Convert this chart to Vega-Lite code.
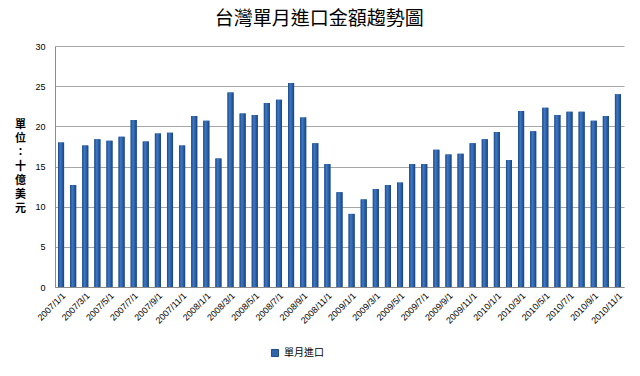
{
  "$schema": "https://vega.github.io/schema/vega-lite/v6.json",
  "width": 640,
  "height": 376,
  "autosize": {"type": "fit", "contains": "padding"},
  "padding": {"left": 14, "right": 16, "top": 10, "bottom": 50},
  "background": "white",
  "title": {
    "text": "台灣單月進口金額趨勢圖",
    "font": "Noto Sans CJK TC",
    "fontSize": 19,
    "fontWeight": "normal",
    "color": "#000000",
    "anchor": "middle",
    "frame": "bounds",
    "offset": 13
  },
  "config": {
    "view": {"stroke": null},
    "font": "Liberation Sans"
  },
  "data": {
    "values": [
      {"month": "2007/1/1", "value": 18.0},
      {"month": "2007/2/1", "value": 12.7},
      {"month": "2007/3/1", "value": 17.6},
      {"month": "2007/4/1", "value": 18.4},
      {"month": "2007/5/1", "value": 18.2},
      {"month": "2007/6/1", "value": 18.7},
      {"month": "2007/7/1", "value": 20.8},
      {"month": "2007/8/1", "value": 18.1},
      {"month": "2007/9/1", "value": 19.1},
      {"month": "2007/10/1", "value": 19.2},
      {"month": "2007/11/1", "value": 17.6},
      {"month": "2007/12/1", "value": 21.3},
      {"month": "2008/1/1", "value": 20.7},
      {"month": "2008/2/1", "value": 16.0},
      {"month": "2008/3/1", "value": 24.2},
      {"month": "2008/4/1", "value": 21.6},
      {"month": "2008/5/1", "value": 21.4},
      {"month": "2008/6/1", "value": 22.9},
      {"month": "2008/7/1", "value": 23.3},
      {"month": "2008/8/1", "value": 25.4},
      {"month": "2008/9/1", "value": 21.1},
      {"month": "2008/10/1", "value": 17.9},
      {"month": "2008/11/1", "value": 15.3},
      {"month": "2008/12/1", "value": 11.8},
      {"month": "2009/1/1", "value": 9.1},
      {"month": "2009/2/1", "value": 10.9},
      {"month": "2009/3/1", "value": 12.2},
      {"month": "2009/4/1", "value": 12.7},
      {"month": "2009/5/1", "value": 13.0},
      {"month": "2009/6/1", "value": 15.3},
      {"month": "2009/7/1", "value": 15.3},
      {"month": "2009/8/1", "value": 17.1},
      {"month": "2009/9/1", "value": 16.5},
      {"month": "2009/10/1", "value": 16.6},
      {"month": "2009/11/1", "value": 17.9},
      {"month": "2009/12/1", "value": 18.4},
      {"month": "2010/1/1", "value": 19.3},
      {"month": "2010/2/1", "value": 15.8},
      {"month": "2010/3/1", "value": 21.9},
      {"month": "2010/4/1", "value": 19.4},
      {"month": "2010/5/1", "value": 22.3},
      {"month": "2010/6/1", "value": 21.4},
      {"month": "2010/7/1", "value": 21.8},
      {"month": "2010/8/1", "value": 21.8},
      {"month": "2010/9/1", "value": 20.7},
      {"month": "2010/10/1", "value": 21.3},
      {"month": "2010/11/1", "value": 24.0}
    ]
  },
  "encoding": {
    "x": {
      "field": "month",
      "type": "ordinal",
      "sort": null,
      "scale": {"paddingInner": 0.5, "paddingOuter": 0.25},
      "axis": {
        "title": null,
        "values": ["2007/1/1","2007/3/1","2007/5/1","2007/7/1","2007/9/1","2007/11/1","2008/1/1","2008/3/1","2008/5/1","2008/7/1","2008/9/1","2008/11/1","2009/1/1","2009/3/1","2009/5/1","2009/7/1","2009/9/1","2009/11/1","2010/1/1","2010/3/1","2010/5/1","2010/7/1","2010/9/1","2010/11/1"],
        "labelAngle": -45,
        "labelFontSize": 9,
        "labelColor": "#000000",
        "labelPadding": 4,
        "ticks": false,
        "domainColor": "#8c8c8c",
        "labelFont": "Liberation Sans"
      }
    },
    "y": {
      "field": "value",
      "type": "quantitative",
      "scale": {"domain": [0, 30], "nice": false},
      "axis": {
        "values": [0, 5, 10, 15, 20, 25, 30],
        "title": ["單", "位", "：", "十", "億", "美", "元"],
        "titleAngle": 0,
        "titleFont": "Noto Sans CJK TC",
        "titleFontSize": 11,
        "titleFontWeight": "bold",
        "titleLineHeight": 14,
        "titleColor": "#000000",
        "titleAlign": "center",
        "titleBaseline": "middle",
        "titleX": -35,
        "titleY": 78,
        "labelFontSize": 9,
        "labelColor": "#000000",
        "labelPadding": 10,
        "ticks": false,
        "gridColor": "#a6a6a6",
        "domainColor": "#8c8c8c"
      }
    }
  },
  "layer": [
    {
      "mark": {"type": "bar"},
      "encoding": {
        "color": {
          "datum": "單月進口",
          "scale": {"range": ["#2f64ad"]},
          "legend": {
            "title": null,
            "orient": "none",
            "legendX": 215,
            "legendY": 302,
            "direction": "horizontal",
            "symbolType": "square",
            "symbolSize": 50,
            "symbolStrokeColor": "#1d4a87",
            "symbolStrokeWidth": 1,
            "labelFont": "Noto Sans CJK TC",
            "labelFontSize": 10,
            "labelColor": "#000000"
          }
        }
      }
    },
    {
      "mark": {
        "type": "bar",
        "fill": {
          "gradient": "linear",
          "x1": 0, "x2": 1, "y1": 0, "y2": 0,
          "stops": [
            {"offset": 0, "color": "#1c4783"},
            {"offset": 0.35, "color": "#3d78c4"},
            {"offset": 0.6, "color": "#2f66b0"},
            {"offset": 1, "color": "#1a4179"}
          ]
        }
      },
      "encoding": {}
    }
  ]
}
